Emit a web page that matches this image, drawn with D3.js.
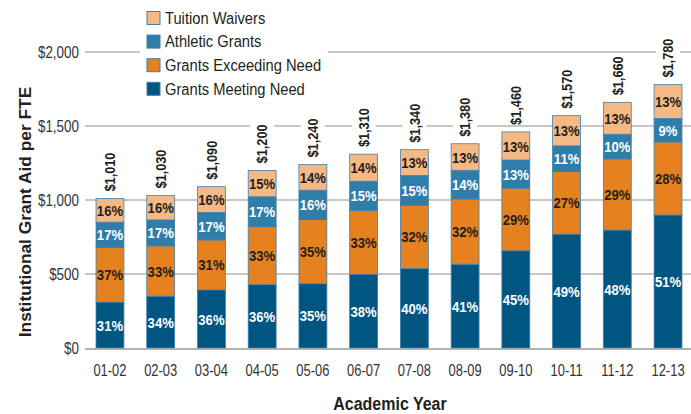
<!DOCTYPE html>
<html>
<head>
<meta charset="utf-8">
<script src="https://cdn.jsdelivr.net/npm/d3@7"></script>
<style>
  body { margin: 0; background: #fff; }
  svg text { font-family: "Liberation Sans", Arial, sans-serif; }
</style>
</head>
<body>
<svg id="chart" width="691" height="414"></svg>
<script>
// data
const years = ["01-02", "02-03", "03-04", "04-05", "05-06", "06-07", "07-08", "08-09", "09-10", "10-11", "11-12", "12-13"];
const totals = [1010, 1030, 1090, 1200, 1240, 1310, 1340, 1380, 1460, 1570, 1660, 1780];
const meetingNeed = [31, 34, 36, 36, 35, 38, 40, 41, 45, 49, 48, 51];
const exceedingNeed = [37, 33, 31, 33, 35, 33, 32, 32, 29, 27, 29, 28];
const athletic = [17, 17, 17, 17, 16, 15, 15, 14, 13, 11, 10, 9];
const tuition = [16, 16, 16, 15, 14, 14, 13, 13, 13, 13, 13, 13];
const yTicks = [0, 500, 1000, 1500, 2000];

const series = [
  { name: "Grants Meeting Need", pct: meetingNeed, color: "#005581", text: "#fff" },
  { name: "Grants Exceeding Need", pct: exceedingNeed, color: "#e5821f", text: "#231f20" },
  { name: "Athletic Grants", pct: athletic, color: "#2f7da9", text: "#fff" },
  { name: "Tuition Waivers", pct: tuition, color: "#f4b984", text: "#231f20" }
];

// the original uses a condensed face; squeeze Liberation Sans horizontally
const SX = 0.85;
const place = (px, py, rot, sx) => `translate(${px},${py})` + (rot ? ` rotate(${rot})` : "") + ` scale(${sx},1)`;

const svg = d3.select("#chart");

const x = d3.scaleBand().domain(years).range([84.6, 693.4]).paddingInner(0.45).paddingOuter(0.225);
const y = d3.scaleLinear().domain([0, 2000]).range([348, 52]);

// gridlines
svg.append("g")
  .selectAll("line")
  .data(yTicks.slice(1))
  .join("line")
  .attr("x1", 85).attr("x2", 691)
  .attr("y1", d => y(d)).attr("y2", d => y(d))
  .attr("stroke", "#b5b5b5").attr("stroke-width", 1.5);

// y tick labels
svg.append("g")
  .selectAll("text")
  .data(yTicks)
  .join("text")
  .attr("transform", d => place(79, y(d), 0, SX))
  .attr("dy", "0.36em")
  .attr("text-anchor", "end")
  .attr("font-size", 15.8).attr("fill", "#333")
  .text(d => d3.format("$,")(d));

// stack segments, scaled so they add up to the total
const rows = years.map((yr, i) => {
  const sum = series.reduce((s, se) => s + se.pct[i], 0);
  let base = 0;
  return series.map(se => {
    const v = totals[i] * se.pct[i] / sum;
    const seg = { year: yr, y0: base, y1: base + v, pct: se.pct[i], s: se };
    base += v;
    return seg;
  });
});

const bars = svg.append("g");
bars.selectAll("rect")
  .data(rows.flat())
  .join("rect")
  .attr("x", d => x(d.year))
  .attr("width", x.bandwidth())
  .attr("y", d => y(d.y1))
  .attr("height", d => y(d.y0) - y(d.y1))
  .attr("fill", d => d.s.color)
  .attr("stroke", "#3f7fae").attr("stroke-width", 0.8);

bars.selectAll("text")
  .data(rows.flat())
  .join("text")
  .attr("transform", d => place(x(d.year) + x.bandwidth() / 2, (y(d.y0) + y(d.y1)) / 2, 0, SX))
  .attr("dy", "0.36em")
  .attr("text-anchor", "middle")
  .attr("font-size", 15.4).attr("font-weight", "bold")
  .attr("fill", d => d.s.text)
  .text(d => d.pct + "%");

// baseline
svg.append("line")
  .attr("x1", 85).attr("x2", 691)
  .attr("y1", y(0) + 1).attr("y2", y(0) + 1)
  .attr("stroke", "#9a9a9a").attr("stroke-width", 1.5);

// total labels, rotated, with white background that breaks the gridlines
const tot = svg.append("g")
  .selectAll("g")
  .data(years)
  .join("g")
  .attr("transform", (d, i) => `translate(${x(d) + x.bandwidth() / 2},${y(totals[i]) - 7})`);
tot.append("rect")
  .attr("x", -12).attr("width", 24)
  .attr("y", -40).attr("height", 40)
  .attr("fill", "#fff");
tot.append("text")
  .attr("transform", place(0, 0, -90, 0.88))
  .attr("dy", "0.36em")
  .attr("font-size", 14.5).attr("font-weight", "bold")
  .attr("fill", "#231f20")
  .text((d, i) => d3.format("$,")(totals[i]));

// x tick labels
svg.append("g")
  .selectAll("text")
  .data(years)
  .join("text")
  .attr("transform", d => place(x(d) + x.bandwidth() / 2, 370, 0, 0.82))
  .attr("dy", "0.36em")
  .attr("text-anchor", "middle")
  .attr("font-size", 15.8).attr("fill", "#333")
  .text(d => d);

// axis titles
svg.append("text")
  .attr("transform", place(390, 410, 0, 0.86))
  .attr("text-anchor", "middle")
  .attr("font-size", 18.6).attr("font-weight", "bold").attr("fill", "#231f20")
  .text("Academic Year");

svg.append("text")
  .attr("transform", place(25, 212, -90, 1.05))
  .attr("dy", "0.36em")
  .attr("text-anchor", "middle")
  .attr("font-size", 16.5).attr("font-weight", "bold").attr("fill", "#231f20")
  .text("Institutional Grant Aid per FTE");

// legend
const legendItems = series.slice().reverse();
const legend = svg.append("g");
legend.append("rect")
  .attr("x", 140).attr("y", 4).attr("width", 188).attr("height", 98)
  .attr("fill", "#fff");
const li = legend.selectAll("g")
  .data(legendItems)
  .join("g")
  .attr("transform", (d, i) => `translate(147,${18 + i * 23.6})`);
li.append("rect")
  .attr("x", 0).attr("y", -6.5).attr("width", 13).attr("height", 13)
  .attr("fill", d => d.color)
  .attr("stroke", "#3f7fae").attr("stroke-width", 1);
li.append("text")
  .attr("transform", place(18, 0, 0, 0.92))
  .attr("dy", "0.36em")
  .attr("font-size", 16).attr("fill", "#231f20")
  .text(d => d.name);
</script>
</body>
</html>
